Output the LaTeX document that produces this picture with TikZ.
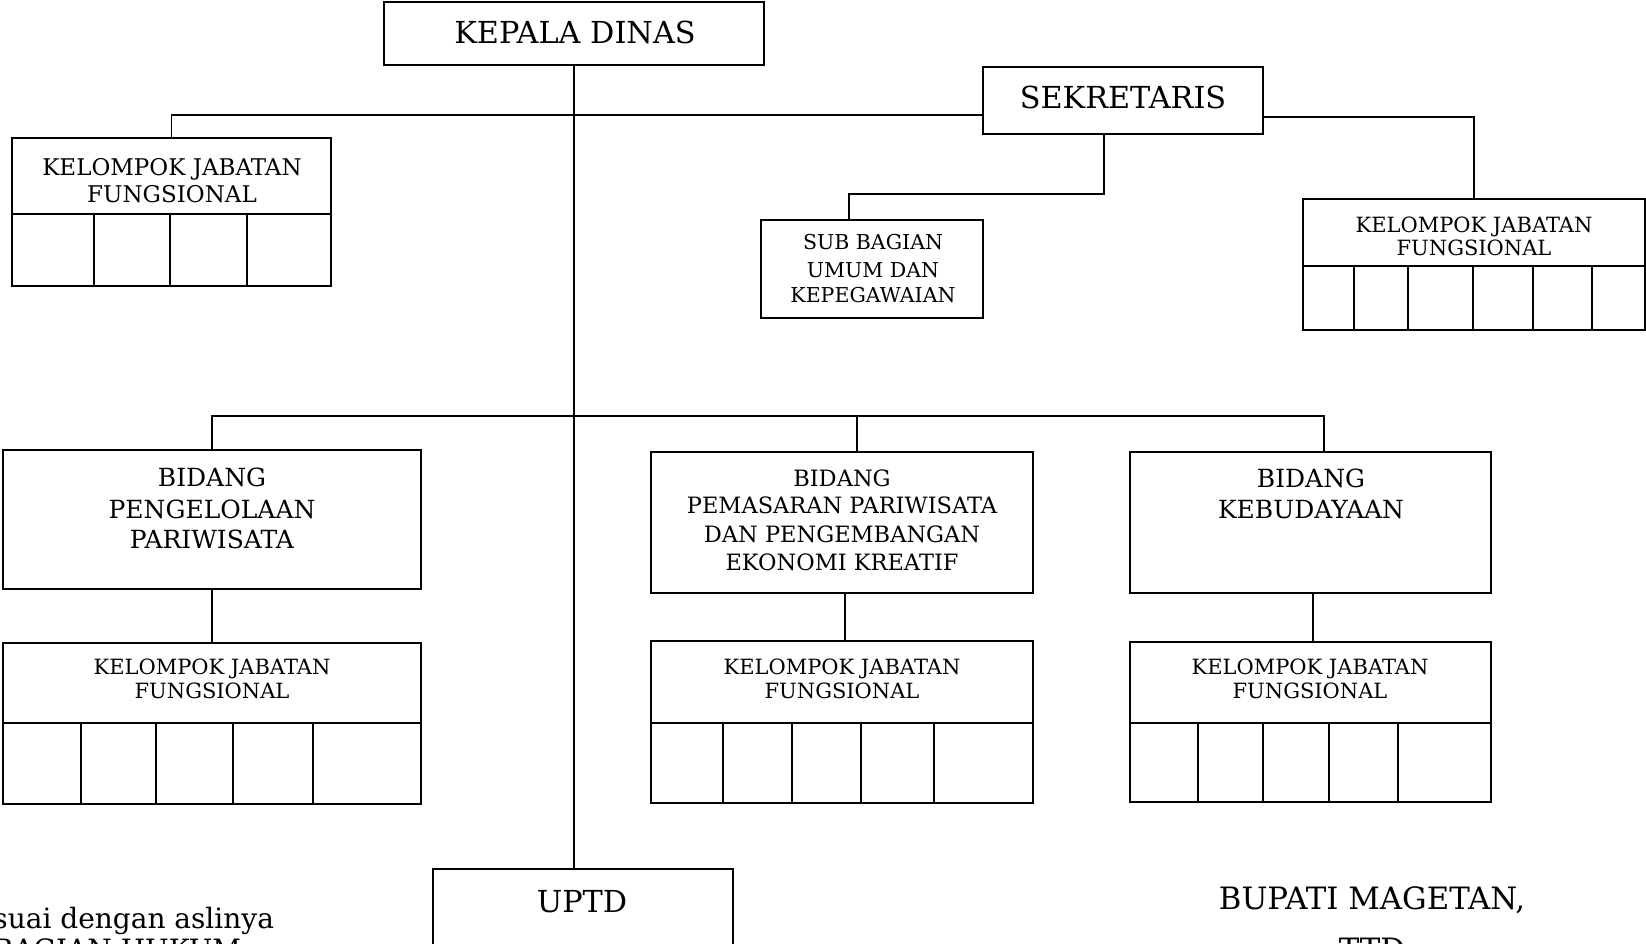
\documentclass[tikz,border=0pt]{standalone}
\usepackage{fontspec}
\setmainfont{DejaVu Serif}
\usetikzlibrary{calc}
\begin{document}
\begin{tikzpicture}[x=1pt,y=-1pt,line width=1.8pt,
  box/.style={draw, inner sep=0pt, outer sep=0pt},
  lbl/.style={anchor=base, inner sep=0pt, outer sep=0pt},
  fbig/.style={font=\fontsize{30.3pt}{35pt}\selectfont},
  fbup/.style={font=\fontsize{30.8pt}{35pt}\selectfont},
  fbid/.style={font=\fontsize{25pt}{30pt}\selectfont},
  fbidb/.style={font=\fontsize{22.5pt}{27pt}\selectfont},
  fkja/.style={font=\fontsize{23pt}{27pt}\selectfont},
  fkjb/.style={font=\fontsize{21pt}{25pt}\selectfont},
  fsub/.style={font=\fontsize{20.5pt}{25pt}\selectfont},
  fnote/.style={font=\fontsize{28pt}{33pt}\selectfont}]
\useasboundingbox[fill=white] (0,0) rectangle (1646,943);

% boxes
\node[box, minimum width=380pt, minimum height=63pt] (kd) at (574,33.5) {};
\node[box, minimum width=280pt, minimum height=67pt] (sek) at (1123,100.5) {};
\node[box, minimum width=319pt, minimum height=148pt] (kjf0) at (171.5,212) {};
\node[box, minimum width=222pt, minimum height=98pt] (sub) at (872,269) {};
\node[box, minimum width=342pt, minimum height=131pt] (kjf1) at (1474,264.5) {};
\node[box, minimum width=418pt, minimum height=139pt] (b1) at (212,519.5) {};
\node[box, minimum width=382pt, minimum height=141pt] (b2) at (842,522.5) {};
\node[box, minimum width=361pt, minimum height=141pt] (b3) at (1310.5,522.5) {};
\node[box, minimum width=418pt, minimum height=161pt] (k1) at (212,723.5) {};
\node[box, minimum width=382pt, minimum height=162pt] (k2) at (842,722) {};
\node[box, minimum width=361pt, minimum height=160pt] (k3) at (1310.5,722) {};
\node[box, minimum width=300pt, minimum height=101pt] (uptd) at (583,919.5) {};

% cell grids
\draw (12,214) -- (331,214);
\foreach \x in {94,170,247} \draw (\x,214) -- (\x,286);
\draw (1303,266) -- (1645,266);
\foreach \x in {1354,1408,1473,1533,1592} \draw (\x,266) -- (\x,330);
\draw (3,723) -- (421,723);
\foreach \x in {81,156,233,313} \draw (\x,723) -- (\x,804);
\draw (651,723) -- (1033,723);
\foreach \x in {723,792,861,934} \draw (\x,723) -- (\x,803);
\draw (1130,723) -- (1491,723);
\foreach \x in {1198,1263,1329,1398} \draw (\x,723) -- (\x,802);

% connectors
\draw (kd.south) -- (kd.south |- uptd.north);
\draw (kjf0.north) |- ($(sek.west)+(0,14.5)$);
\draw ($(sek.east)+(0,16.5)$) -| (kjf1.north);
\draw ($(sek.south)+(-19,0)$) -- ++(0,60) -| ($(sub.north)+(-23,0)$);
\draw (b1.north) |- ($(b3.north)+(13.5,-36)$) -- ($(b3.north)+(13.5,0)$);
\draw ($(b2.north)+(15,0)$) -- ++(0,-36);
\draw (b1.south) -- (k1.north);
\draw ($(b2.south)+(3,0)$) -- ($(k2.north)+(3,0)$);
\draw ($(b3.south)+(2.5,0)$) -- ($(k3.north)+(2.5,0)$);

% labels
\node[lbl,fbig] (tkd) at (575,43) {KEPALA DINAS};
\node[lbl,fbig] (tsek) at (1123,108) {SEKRETARIS};
\node[lbl,fkja] (tk0a) at (172,175) {KELOMPOK JABATAN};
\node[lbl,fkja] (tk0b) at (172,202) {FUNGSIONAL};
\node[lbl,fsub] (tsa) at (873,249) {SUB BAGIAN};
\node[lbl,fsub] (tsb) at (873,277) {UMUM DAN};
\node[lbl,fsub] (tsc) at (873,302) {KEPEGAWAIAN};
\node[lbl,fkjb] (tk1a) at (1474,232) {KELOMPOK JABATAN};
\node[lbl,fkjb] (tk1b) at (1474,255) {FUNGSIONAL};
\node[lbl,fbid] (tb1a) at (212,486) {BIDANG};
\node[lbl,fbid] (tb1b) at (212,518) {PENGELOLAAN};
\node[lbl,fbid] (tb1c) at (212,548) {PARIWISATA};
\node[lbl,fbidb] (tb2a) at (842,486) {BIDANG};
\node[lbl,fbidb] (tb2b) at (842,513) {PEMASARAN PARIWISATA};
\node[lbl,fbidb] (tb2c) at (842,542) {DAN PENGEMBANGAN};
\node[lbl,fbidb] (tb2d) at (842,570) {EKONOMI KREATIF};
\node[lbl,fbid] (tb3a) at (1311,487) {BIDANG};
\node[lbl,fbid] (tb3b) at (1311,518) {KEBUDAYAAN};
\node[lbl,fkjb] (tq1a) at (212,674) {KELOMPOK JABATAN};
\node[lbl,fkjb] (tq1b) at (212,698) {FUNGSIONAL};
\node[lbl,fkjb] (tq2a) at (842,674) {KELOMPOK JABATAN};
\node[lbl,fkjb] (tq2b) at (842,698) {FUNGSIONAL};
\node[lbl,fkjb] (tq3a) at (1310,674) {KELOMPOK JABATAN};
\node[lbl,fkjb] (tq3b) at (1310,698) {FUNGSIONAL};
\node[lbl,fbig] (tup) at (582,912) {UPTD};
\node[lbl,fbup] (tbup) at (1372,909) {BUPATI MAGETAN,};
\node[lbl,fbup] (tttd) at (1372,960) {TTD};
\node[lbl,fnote,anchor=base east] (tsuai) at (274,928) {suai dengan aslinya};
\node[lbl,fnote,anchor=base east] (thuk) at (241,959) {BAGIAN HUKUM};
\end{tikzpicture}
\end{document}
